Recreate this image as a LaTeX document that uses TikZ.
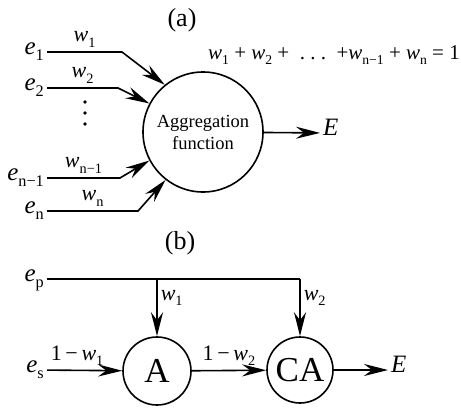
\documentclass[tikz,border=0pt]{standalone}
\usepackage{fontspec}
\setmainfont{Liberation Serif}
\usetikzlibrary{arrows.meta,positioning,calc}
\newcommand{\vr}[2]{\textit{#1}\raisebox{-0.25em}{\scalebox{0.65}{#2}}}
\tikzset{
  unit/.style={circle,draw,line width=1.6pt,inner sep=0pt},
  lbl/.style={font=\fontsize{22}{26}\selectfont,inner sep=2pt},
  var/.style={font=\fontsize{25}{28}\selectfont,text height=13pt,text depth=9pt,inner sep=3pt},
  wlbl/.style={font=\fontsize{22}{26}\selectfont,inner sep=1pt},
  wire/.style={line width=1.6pt},
  flow/.style={wire,-{Stealth[length=24pt,width=12pt,inset=8pt]}},
}

\begin{document}
\begin{tikzpicture}[x=1pt,y=-1pt]
    \useasboundingbox (0,0) rectangle (461,410);
    % (a) weighted aggregation
    \node[lbl,font=\fontsize{26}{30}\selectfont] (tagA) at (182,20) {(a)};
    \node[unit,minimum size=120pt,align=center,
          font=\fontsize{18.5}{22}\selectfont] (agg) at (203,132) {Aggregation\\function};
    \node[lbl,font=\fontsize{21}{24}\selectfont] (sum) at (334,55)
      {\vr{w}{1} + \vr{w}{2} +\ \ .\ .\ .\ \ +\vr{w}{n−1} + \vr{w}{n} = 1};

    \node[var,anchor=east] (e1) at (47,52) {\vr{e}{1}};
    \node[var,anchor=east] (e2) at (47,88) {\vr{e}{2}};
    \node[var,anchor=east] (en1) at (47,178) {\vr{e}{n−1}};
    \node[var,anchor=east] (en) at (47,211) {\vr{e}{n}};
    \coordinate (k1) at (122,52);
    \coordinate (k2) at (118,88);
    \coordinate (kn1) at (120,178);
    \coordinate (kn) at (138,211);

    \draw[flow] (e1) -- node[wlbl,above=3pt] {\vr{w}{1}} (k1) -- (agg.129);
    \draw[flow] (e2) -- node[wlbl,above=3pt] {\vr{w}{2}} (k2) -- (agg.152);
    \draw[flow] (en1) -- node[wlbl,above=3pt] {\vr{w}{n−1}} (kn1) -- (agg.208);
    \draw[flow] (en) -- node[wlbl,above=3pt] {\vr{w}{n}} (kn) -- (agg.232);
    \foreach \y in {102,113,124}
      \fill (85,\y) circle (1.8pt);

    \node[var,anchor=west] (Ea) at (320,133) {\textit{E}};
    \draw[flow] (agg) -- (Ea);

    % (b) chained units
    \node[lbl,font=\fontsize{26}{30}\selectfont] (tagB) at (180,243) {(b)};
    \node[unit,minimum size=68pt,font=\fontsize{35}{38}\selectfont] (A) at (157,371) {A};
    \node[unit,minimum size=66pt,font=\fontsize{35}{38}\selectfont] (CA) at (300,370) {CA};
    \node[var,anchor=east] (ep) at (47,279) {\vr{e}{p}};
    \node[var,anchor=east] (es) at (47,370) {\vr{e}{s}};
    \coordinate (j1) at (A.north |- ep.east);
    \coordinate (j2) at (CA.north |- ep.east);

    \draw[wire] (ep) -- (j2);
    \draw[flow] (j1) -- node[wlbl,right=2pt,pos=0.33] {\vr{w}{1}} (A);
    \draw[flow] (j2) -- node[wlbl,right=2pt,pos=0.33] {\vr{w}{2}} (CA);
    \draw[flow] (es) -- node[wlbl,above=3pt,pos=0.4] {1\,−\,\vr{w}{1}} (A);
    \draw[flow] (A) -- node[wlbl,above=3pt] {1\,−\,\vr{w}{2}} (CA);

    \node[var,anchor=west] (Eb) at (388,370) {\textit{E}};
    \draw[flow] (CA) -- (Eb);
\end{tikzpicture}
\end{document}
